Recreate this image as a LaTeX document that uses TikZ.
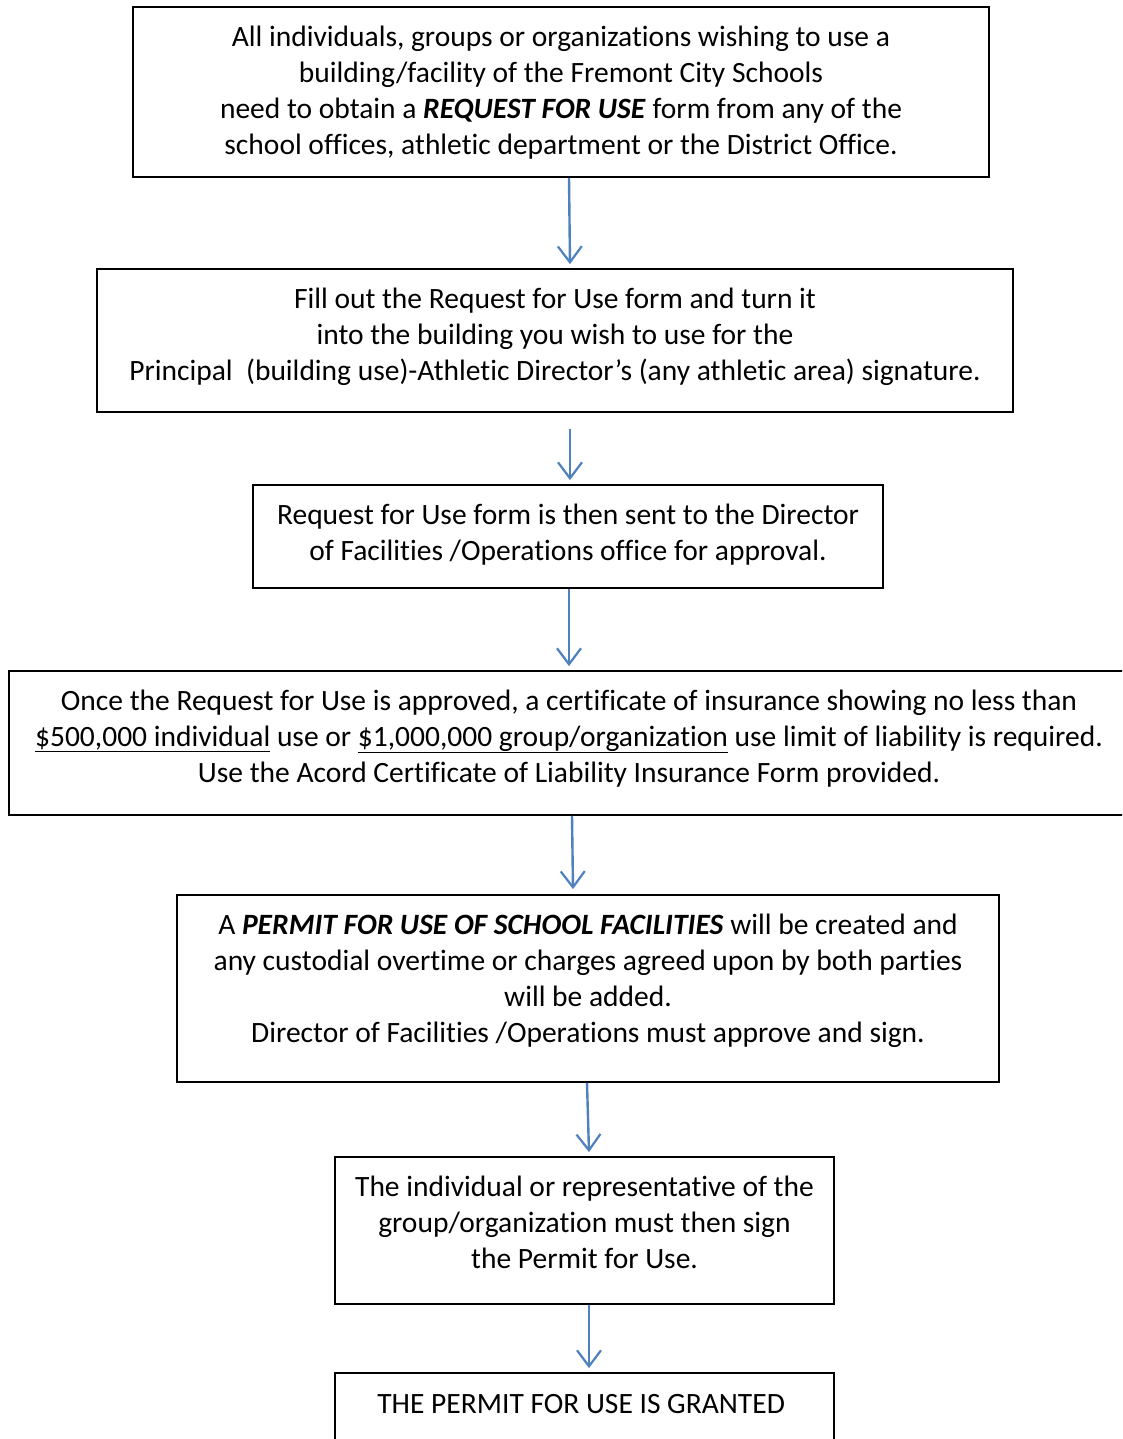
\documentclass[tikz,border=0pt]{standalone}
\usepackage{fontspec}
\setmainfont{Carlito}[Ligatures=NoCommon]
\usetikzlibrary{arrows.meta}
\definecolor{arrowblue}{RGB}{79,129,189}
\begin{document}
\begin{tikzpicture}[x=1pt, y=-1pt,
	box/.style = {draw, line width=1.8pt, inner sep=0pt},
	txt/.style = {align=center, anchor=base, inner sep=0pt, font=\fontsize{29.5}{36}\selectfont},
	flow/.style = {draw=arrowblue, line width=2.4pt, -{Straight Barb[length=16pt,width=24pt,line width=2.2pt]}}]
	\path[use as bounding box, clip] (0,0) rectangle (1122,1439);
	\node (b1) [box, minimum width=856pt, minimum height=170pt] at (561, 92) {};
	\node (b2) [box, minimum width=916pt, minimum height=143pt] at (555, 340.5) {};
	\node (b3) [box, minimum width=630pt, minimum height=103pt] at (568, 536.5) {};
	\node (b4) [box, minimum width=1120pt, minimum height=144pt] at (569, 743) {};
	\node (b5) [box, minimum width=822pt, minimum height=187pt] at (588, 988.5) {};
	\node (b6) [box, minimum width=499pt, minimum height=147pt] at (584.5, 1230.5) {};
	\node (b7) [box, minimum width=499pt, minimum height=110pt] at (584.5, 1428) {};
	\node (t1) [txt] at ([yshift=-148pt]b1.north) {
		All individuals, groups or organizations wishing to use a\\
		building/facility of the Fremont City Schools\\
		need to obtain a \textbf{\textit{REQUEST FOR USE}} form from any of the\\
		school offices, athletic department or the District Office.
	};
	\node (t2) [txt] at ([yshift=-112pt]b2.north) {
		Fill out the Request for Use form and turn it\\
		into the building you wish to use for the\\
		Principal~ (building use)-Athletic Director's (any athletic area) signature.
	};
	\node (t3) [txt] at ([yshift=-76pt]b3.north) {
		Request for Use form is then sent to the Director\\
		of Facilities /Operations office for approval.
	};
	\node (t4) [txt] at ([yshift=-112pt]b4.north) {
		Once the Request for Use is approved, a certificate of insurance showing no less than\\
		\underline{\$500,000 individual} use or \underline{\$1,000,000 group/organization} use limit of liability is required.\\
		Use the Acord Certificate of Liability Insurance Form provided.
	};
	\node (t5) [txt] at ([yshift=-148pt]b5.north) {
		A \textbf{\textit{PERMIT FOR USE OF SCHOOL FACILITIES}} will be created and\\
		any custodial overtime or charges agreed upon by both parties\\
		will be added.\\
		Director of Facilities /Operations must approve and sign.
	};
	\node (t6) [txt] at ([yshift=-112pt]b6.north) {
		The individual or representative of the\\
		group/organization must then sign\\
		the Permit for Use.
	};
	\node (t7) [txt] at ([yshift=-41pt]b7.north) {
		THE PERMIT FOR USE IS GRANTED
	};
	\draw[flow] ([xshift=8pt]b1.south) -- ([xshift=15pt,yshift=4pt]b2.north);
	\draw[flow] ([xshift=15pt,yshift=-16pt]b2.south) -- ([xshift=2pt,yshift=4pt]b3.north);
	\draw[flow] ([xshift=1pt]b3.south) -- ([yshift=4pt]b4.north);
	\draw[flow] ([xshift=3pt]b4.south) -- ([xshift=-15pt,yshift=5pt]b5.north);
	\draw[flow] ([xshift=-1pt]b5.south) -- ([xshift=4.5pt,yshift=4pt]b6.north);
	\draw[flow] ([xshift=4.5pt]b6.south) -- ([xshift=4.5pt,yshift=4pt]b7.north);
\end{tikzpicture}
\end{document}
